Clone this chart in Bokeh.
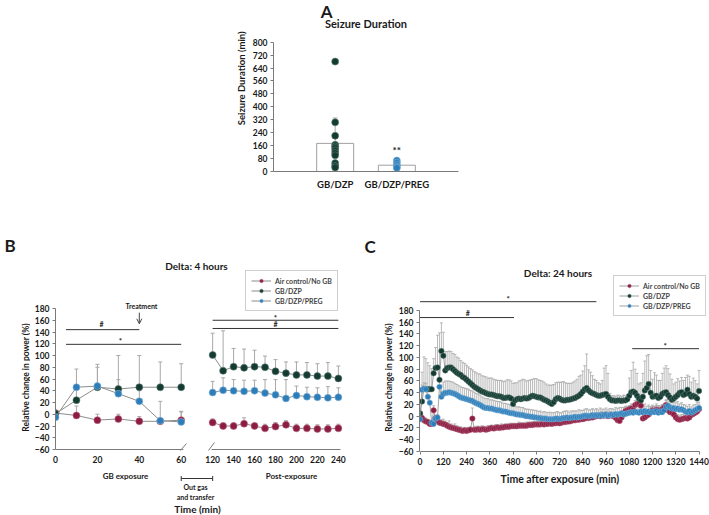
import math
from bokeh.plotting import figure
from bokeh.models import (Range1d, FixedTicker, Label, Legend, LegendItem, Whisker,
                          ColumnDataSource, FactorRange, TeeHead, Arrow, OpenHead)
from bokeh.layouts import column, row
from bokeh.embed import file_html
from bokeh.resources import INLINE

FONT = "Lato"
RED = "#8C1C40"
DARK = "#133B31"
BLUE = "#2C7DB8"
RED_RIM = "#B86A86"
DARK_RIM = "#5E7D74"
BLUE_RIM = "#86B6DC"
LINE = "#8C8C8C"
ERR = "#A8A8A8"
AXIS = "#7A7A7A"
TXT = "#1A1A1A"

# ---------------- Panel A data ----------------
a_groups = ["GB/DZP", "GB/DZP/PREG"]
a_means = [174, 39]
a_upper = [331, 58]
a_pts_dzp = [680, 304, 221, 165, 155, 145, 130, 115, 100, 52, 35, 25]
a_pts_preg = [68, 55, 42, 30, 22]
a_yticks = [0, 80, 160, 240, 320, 400, 480, 560, 640, 720, 800]

# ---------------- Panel B data ----------------
series_names = ["Air control/No GB", "GB/DZP", "GB/DZP/PREG"]
b_t_exp = [0, 10, 20, 30, 40, 50, 60]
b_air_exp = [2, -2, -10, -8, -12, -12, -10]
b_air_exp_up = [2, 14, 0, 0, -4, -8, 5]
b_dzp_exp = [1, 24, 46, 43, 46, 46, 46]
b_dzp_exp_up = [1, 50, 80, 100, 100, 89, 86]
b_preg_exp = [-5, 46, 48, 35, 22, -11, -13]
b_preg_exp_up = [-5, 77, 85, 59, 40, 22, 4]

b_t_post = [120, 130, 140, 150, 160, 170, 180, 190, 200, 210, 220, 230, 240]
b_air_post = [-14, -20, -20, -16, -20, -24, -21, -18, -24, -24, -25, -25, -24]
b_air_post_up = [-8, -15, -15, -6, -15, -17, -14, -11, -17, -17, -18, -18, -17]
b_dzp_post = [101, 74, 81, 79, 81, 80, 73, 70, 67, 67, 65, 65, 61]
b_dzp_post_up = [138, 142, 112, 111, 109, 99, 93, 89, 89, 88, 86, 88, 82]
b_preg_post = [37, 41, 40, 39, 40, 36, 33, 27, 32, 30, 29, 28, 29]
b_preg_post_up = [56, 62, 59, 58, 58, 59, 59, 59, 48, 46, 45, 47, 45]

b_left_tick_labels = [0, 20, 40, 60]
b_right_tick_labels = [120, 140, 160, 180, 200, 220, 240]
power_ticks = [-60, -40, -20, 0, 20, 40, 60, 80, 100, 120, 140, 160, 180]

# ---------------- Panel C data (every 10 min) ----------------
c_times = list(range(0, 1441, 10))
c_dzp = [
    5, 25, 46, 46, 46, 46, 46, 73, 82, 83,
    62, 111, 103, 78, 82, 83, 83, 80, 77, 74,
    72, 70, 67, 65, 62, 59, 56, 53, 50, 48,
    46, 44, 42, 41, 39, 38, 37, 37, 36, 35,
    34, 34, 33, 31, 31, 32, 32, 30, 21, 27,
    29, 30, 29, 30, 31, 30, 31, 33, 35, 34,
    33, 32, 32, 30, 28, 27, 25, 23, 21, 24,
    29, 31, 30, 28, 27, 27, 28, 28, 29, 30,
    31, 33, 35, 38, 42, 46, 48, 44, 41, 39,
    38, 36, 35, 35, 36, 37, 38, 33, 29, 27,
    27, 26, 27, 27, 26, 27, 27, 29, 35, 41,
    42, 40, 35, 30, 27, 33, 44, 48, 55, 40,
    33, 34, 35, 31, 33, 38, 40, 41, 36, 32,
    28, 30, 33, 36, 40, 41, 36, 38, 45, 38,
    33, 35, 33, 30, 43]
c_dzp_err = [
    3, 50, 55, 52, 45, 40, 35, 25, 35, 55,
    80, 48, 40, 32, 28, 28, 27, 27, 28, 27,
    27, 25, 25, 25, 25, 25, 25, 26, 26, 26,
    26, 28, 27, 27, 28, 27, 28, 28, 27, 27,
    27, 27, 28, 28, 29, 30, 30, 30, 35, 30,
    28, 30, 32, 33, 31, 30, 30, 29, 28, 30,
    31, 30, 29, 30, 30, 28, 28, 30, 32, 30,
    28, 27, 28, 30, 32, 30, 28, 28, 27, 28,
    29, 30, 33, 32, 35, 40, 58, 35, 34, 30,
    25, 25, 22, 20, 25, 45, 48, 40, 10, 8,
    8, 8, 9, 8, 8, 9, 8, 8, 30, 37,
    50, 40, 38, 25, 30, 40, 50, 55, 50, 38,
    30, 40, 35, 30, 28, 35, 42, 45, 45, 40,
    35, 25, 25, 28, 20, 25, 25, 28, 25, 30,
    25, 30, 28, 25, 35]
c_preg = [
    -5, 45, 47, 46, 33, 23, -11, -13, -4, -2,
    50, 33, 38, 40, 40, 41, 40, 39, 38, 36,
    34, 32, 31, 30, 29, 28, 27, 26, 24, 22,
    21, 19, 17, 15, 14, 14, 13, 13, 12, 11,
    10, 10, 9, 8, 8, 7, 6, 5, 5, 4,
    3, 3, 2, 2, 1, 0, 0, -1, -1, -2,
    -2, -3, -3, -4, -4, -4, -5, -5, -5, -5,
    -4, -4, -5, -4, -3, -3, -2, -3, -2, -2,
    -1, -2, -1, -1, 0, 1, 1, 0, 1, 2,
    1, 2, 1, 2, 1, 2, 3, 1, 2, 3,
    2, 4, 3, 4, 5, 3, 4, 5, 6, 7,
    6, 8, 7, 6, 8, 7, 9, 7, 8, 6,
    8, 7, 9, 6, 8, 7, 10, 16, 18, 15,
    13, 14, 12, 13, 11, 12, 10, 8, 7, 9,
    6, 8, 10, 12, 14]
c_preg_err = [
    3, 8, 10, 10, 12, 10, 5, 5, 5, 5,
    10, 20, 20, 20, 20, 19, 19, 19, 18, 18,
    18, 18, 18, 18, 18, 18, 17, 17, 17, 17,
    17, 17, 16, 16, 16, 16, 15, 15, 15, 15,
    15, 15, 15, 14, 14, 14, 14, 14, 14, 13,
    13, 13, 13, 13, 12, 12, 12, 12, 12, 12,
    12, 11, 12, 11, 12, 11, 11, 12, 11, 11,
    11, 12, 11, 10, 11, 12, 11, 10, 11, 11,
    10, 11, 12, 11, 10, 11, 12, 11, 10, 11,
    10, 11, 10, 12, 11, 10, 11, 10, 11, 10,
    10, 11, 10, 11, 10, 12, 11, 10, 11, 12,
    11, 10, 12, 11, 10, 11, 12, 10, 11, 10,
    11, 10, 12, 11, 10, 11, 10, 12, 11, 10,
    11, 10, 11, 12, 10, 11, 10, 11, 10, 11,
    10, 11, 10, 11, 10]
c_air = [
    1, -3, -7, -9, -10, -13, -13, 10, -3, -8,
    -11, -12, -13, -14, -16, -18, -19, -20, -21, -22,
    -23, -24, -25, -24, -25, -24, -23, -4, -23, -23,
    -22, -23, -22, -22, -23, -22, -21, -20, -21, -20,
    -19, -20, -19, -19, -18, -18, -18, -17, -17, -17,
    -17, -16, -16, -16, -16, -16, -15, -15, -15, -14,
    -14, -14, -14, -13, -14, -13, -13, -12, -13, -12,
    -12, -11, -12, -11, -10, -10, -9, -9, -8, -7,
    -7, -6, -6, -5, -5, -4, -3, -3, -2, -2,
    -1, 0, 1, 0, 2, 1, 2, 0, 2, 1,
    0, -3, -7, -8, -2, 3, 9, 10, 12, 13,
    11, 19, 21, 22, 18, -4, -2, 1, 3, 8,
    10, 9, 11, 10, 8, 12, 15, 19, 10, 7,
    6, 3, -2, -5, -6, -5, -4, -3, -4, -2,
    2, 4, 6, 8, 12]
c_air_err = [
    2, 5, 5, 6, 5, 5, 5, 8, 5, 5,
    5, 6, 8, 6, 5, 10, 6, 5, 8, 6,
    5, 6, 5, 5, 6, 5, 5, 18, 5, 6,
    5, 5, 6, 5, 5, 6, 5, 5, 5, 6,
    5, 5, 6, 5, 5, 5, 6, 5, 5, 5,
    5, 6, 5, 5, 5, 6, 5, 5, 6, 5,
    5, 5, 6, 5, 5, 5, 6, 5, 5, 6,
    5, 6, 5, 5, 6, 5, 5, 6, 5, 5,
    6, 5, 5, 6, 5, 6, 5, 5, 6, 5,
    6, 5, 6, 5, 6, 5, 6, 5, 6, 5,
    6, 7, 8, 8, 7, 6, 8, 7, 6, 8,
    7, 8, 7, 8, 9, 8, 7, 8, 7, 8,
    7, 8, 7, 8, 7, 8, 7, 8, 7, 8,
    7, 8, 7, 8, 7, 8, 7, 8, 7, 8,
    7, 8, 7, 8, 7]
c_xticks = [0, 120, 240, 360, 480, 600, 720, 840, 960, 1080, 1200, 1320, 1440]


def label(p, x, y, text, size="9px", align="center", baseline="middle", angle=0.0,
          style="bold", color=TXT):
    p.add_layout(Label(x=x, y=y, text=text, text_font=FONT, text_font_size=size,
                       text_font_style=style, text_align=align, text_baseline=baseline,
                       angle=angle, text_color=color))


def style_axis(ax, size="8.5px", ticks=True, standoff=3):
    ax.axis_line_color = AXIS
    ax.axis_line_width = 1
    ax.major_tick_line_color = AXIS if ticks else None
    ax.major_tick_out = 3 if ticks else 0
    ax.major_tick_in = 0
    ax.minor_tick_line_color = None
    ax.major_label_text_font = FONT
    ax.major_label_text_font_style = "bold"
    ax.major_label_text_font_size = size
    ax.major_label_text_color = TXT
    ax.major_label_standoff = standoff


def base_fig(width, height, x_range, y_range, left, bottom, right=0):
    p = figure(width=width, height=height, x_range=x_range, y_range=y_range,
               output_backend="svg", toolbar_location=None, title=None,
               min_border_left=left, min_border_right=right, min_border_top=0,
               min_border_bottom=bottom)
    p.grid.visible = False
    p.outline_line_color = None
    p.background_fill_color = "white"
    p.border_fill_color = "white"
    return p


def text_fig(width, height, x_range, y_range, left=0, right=0):
    p = figure(width=width, height=height, x_range=x_range, y_range=y_range,
               x_axis_location=None, y_axis_location=None,
               output_backend="svg", toolbar_location=None, title=None,
               min_border_left=left, min_border_right=right, min_border_top=0,
               min_border_bottom=0)
    p.grid.visible = False
    p.outline_line_color = None
    p.background_fill_color = "white"
    p.border_fill_color = "white"
    return p


def sig_line(p, x0, x1, y, **kw):
    p.segment(x0=[x0], y0=[y], x1=[x1], y1=[y], line_color="#333333", line_width=1, **kw)


# =============== Panel A ===============
A_ylab = text_fig(248, 233, Range1d(0, 248), Range1d(233, 0))
label(A_ylab, 241, 106, "Seizure Duration (min)", size="9.5px", angle=math.pi / 2)

pA = figure(width=461, height=233,
            x_range=FactorRange(factors=a_groups, range_padding=0.5,
                                range_padding_units="absolute", factor_padding=0),
            y_range=Range1d(0, 1058), output_backend="svg", toolbar_location=None,
            title=None, min_border_left=25, min_border_right=251, min_border_top=0,
            min_border_bottom=62)
pA.grid.visible = False
pA.outline_line_color = None
style_axis(pA.yaxis[0], size="8.5px", ticks=True, standoff=3)
pA.yaxis.ticker = FixedTicker(ticks=a_yticks)
pA.yaxis.bounds = (0, 800)
style_axis(pA.xaxis[0], size="9.5px", ticks=False, standoff=7)

srcA = ColumnDataSource(dict(g=a_groups, m=a_means, u=a_upper))
pA.add_layout(Whisker(base="g", lower="m", upper="u", source=srcA, line_color=ERR,
                      upper_head=TeeHead(size=5, line_color=ERR), lower_head=None))
pA.vbar(x="g", top="m", width=0.6, source=srcA, fill_color="white",
        line_color="#A0A0A0", line_width=1)
pA.scatter(x=[a_groups[0]] * len(a_pts_dzp), y=a_pts_dzp, size=7, fill_color=DARK,
           line_color=DARK_RIM, line_width=0.6)
pA.scatter(x=[a_groups[1]] * len(a_pts_preg), y=a_pts_preg, size=7, fill_color=BLUE,
           line_color=BLUE_RIM, line_width=0.6)
label(pA, 0.36, 1058, "A", size="17px", baseline="top")
label(pA, 1.0, 916, "Seizure Duration", size="11px")
label(pA, 1.5, 132, "**", size="10px")

top_row = row(A_ylab, pA)

# =============== Panel B ===============
# main x range is post-exposure time; the exposure period uses its own (wider) scale
pB = base_fig(333, 235, Range1d(-30, 264), Range1d(-66.8, 307.66), 25, 15)
pB.extra_x_ranges = {"exp": Range1d(0, 147)}
main_r = pB.x_range
exp_r = pB.extra_x_ranges["exp"]
scale = (main_r.end - main_r.start) / (exp_r.end - exp_r.start)


def exp_to_main(t):
    return main_r.start + (t - exp_r.start) * scale


def bx(px):  # reference pixel x -> main x units (for text placement)
    return main_r.start + (px - 55) * (main_r.end - main_r.start) / 308.0


left_pos = [int(round(exp_to_main(t))) for t in b_left_tick_labels]
style_axis(pB.xaxis[0], size="8.5px", ticks=False, standoff=2)
pB.xaxis.axis_line_color = None
pB.xaxis.ticker = FixedTicker(ticks=left_pos + b_right_tick_labels)
pB.xaxis.major_label_overrides = {pos: str(t) for pos, t in zip(left_pos, b_left_tick_labels)}
style_axis(pB.yaxis[0], size="8.5px", ticks=True, standoff=3)
pB.yaxis.ticker = FixedTicker(ticks=power_ticks)
pB.yaxis.bounds = (-60, 180)

# broken x axis line with break marks
ax_y = power_ticks[0]
pB.segment(x0=[exp_to_main(b_t_exp[0]), 119], y0=[ax_y, ax_y],
           x1=[exp_to_main(b_t_exp[-1]) + 2, 242], y1=[ax_y, ax_y],
           line_color=AXIS, line_width=1)
pB.segment(x0=[exp_to_main(b_t_exp[-1]) - 0.7, 116], y0=[ax_y - 1.7, ax_y - 1.7],
           x1=[exp_to_main(b_t_exp[-1]) + 5, 121.8], y1=[ax_y + 10.2, ax_y + 11.9],
           line_color=AXIS, line_width=1)

colors = [RED, DARK, BLUE]
rims = [RED_RIM, DARK_RIM, BLUE_RIM]
b_exp_vals = [(b_air_exp, b_air_exp_up), (b_dzp_exp, b_dzp_exp_up), (b_preg_exp, b_preg_exp_up)]
b_post_vals = [(b_air_post, b_air_post_up), (b_dzp_post, b_dzp_post_up),
               (b_preg_post, b_preg_post_up)]
legend_b = []
for i in range(3):
    ys, ups = b_exp_vals[i]
    s = ColumnDataSource(dict(t=b_t_exp, y=ys, u=ups))
    pB.add_layout(Whisker(base="t", lower="y", upper="u", source=s, line_color=ERR,
                          upper_head=TeeHead(size=4, line_color=ERR), lower_head=None,
                          x_range_name="exp"))
for i in range(3):
    ys, ups = b_post_vals[i]
    s = ColumnDataSource(dict(t=b_t_post, y=ys, u=ups))
    pB.add_layout(Whisker(base="t", lower="y", upper="u", source=s, line_color=ERR,
                          upper_head=TeeHead(size=4, line_color=ERR), lower_head=None))
for i in range(3):
    ys, ups = b_exp_vals[i]
    pB.line(b_t_exp, ys, line_color=LINE, line_width=1, x_range_name="exp")
    pB.scatter(b_t_exp, ys, size=7, fill_color=colors[i], line_color=rims[i],
               line_width=0.6, x_range_name="exp")
    ys, ups = b_post_vals[i]
    lr = pB.line(b_t_post, ys, line_color=LINE, line_width=1)
    sr = pB.scatter(b_t_post, ys, size=7, fill_color=colors[i], line_color=rims[i],
                    line_width=0.6)
    legend_b.append(LegendItem(label=series_names[i], renderers=[lr, sr]))


def make_legend(items, loc):
    return Legend(items=items, location=loc, label_text_font=FONT,
                  label_text_font_style="bold", label_text_font_size="7px",
                  label_height=9, glyph_height=9, glyph_width=20, spacing=1,
                  padding=5, margin=0, label_standoff=4, border_line_color="#A0A0A0",
                  border_line_width=1, background_fill_color="white",
                  background_fill_alpha=1.0)


pB.add_layout(make_legend(legend_b, (190, 142)))

sig_line(pB, 5, 40, 144, x_range_name="exp")
sig_line(pB, 5, 60, 119, x_range_name="exp")
sig_line(pB, 120, 240, 160)
sig_line(pB, 120, 240, 146)
label(pB, exp_to_main(22), 154, "#", size="7px")
label(pB, exp_to_main(31), 124, "*", size="8px")
label(pB, 180, 153, "#", size="7px")
label(pB, 180, 164, "*", size="8px")
label(pB, bx(141), 183.5, "Treatment", size="7px")
pB.add_layout(Arrow(end=OpenHead(size=5, line_color="#444444", line_width=1),
                    x_start=40, y_start=173, x_end=40, y_end=154, line_color="#444444",
                    line_width=1, x_range_name="exp"))
label(pB, bx(196), 251.5, "Delta: 4 hours", size="10px")

# texts under the B axis (shares the B x range; y in page pixels)
B_bottom = text_fig(333, 47, pB.x_range, Range1d(515, 468), left=25)
label(B_bottom, bx(125), 475, "GB exposure", size="8px")
label(B_bottom, bx(291), 475, "Post-exposure", size="8px")
B_bottom.add_layout(Arrow(start=TeeHead(size=5, line_color="#333333"),
                          end=TeeHead(size=5, line_color="#333333"),
                          x_start=exp_to_main(b_t_exp[-1]), y_start=478,
                          x_end=b_t_post[0], y_end=478,
                          line_color="#333333", line_width=1))
label(B_bottom, bx(195), 486, "Out gas", size="7px")
label(B_bottom, bx(195), 496, "and transfer", size="7px")
label(B_bottom, bx(197), 508, "Time (min)", size="10px")

B_ylab = text_fig(30, 282, Range1d(0, 30), Range1d(515, 233))
label(B_ylab, 4, 245, "B", size="17px", align="left")
label(B_ylab, 25, 377, "Relative change in power (%)", size="8.5px", angle=math.pi / 2)

B_block = row(B_ylab, column(pB, B_bottom))

# =============== Panel C ===============
pC = base_fig(314, 237, Range1d(-3, 1494), Range1d(-60, 311.06), 24, 19)
style_axis(pC.xaxis[0], size="8.5px", ticks=True, standoff=3)
pC.xaxis.ticker = FixedTicker(ticks=c_xticks)
pC.xaxis.bounds = (0, 1440)
style_axis(pC.yaxis[0], size="8.5px", ticks=True, standoff=3)
pC.yaxis.ticker = FixedTicker(ticks=power_ticks)
pC.yaxis.bounds = (-60, 180)

c_vals = [(c_air, c_air_err), (c_dzp, c_dzp_err), (c_preg, c_preg_err)]
for i in range(3):
    ys, es = c_vals[i]
    s = ColumnDataSource(dict(t=c_times, y=ys, u=[a + b for a, b in zip(ys, es)]))
    pC.add_layout(Whisker(base="t", lower="y", upper="u", source=s, line_color=ERR,
                          line_width=0.8, upper_head=TeeHead(size=3, line_color=ERR,
                                                             line_width=0.8),
                          lower_head=None))
legend_c = []
for i in range(3):
    ys, es = c_vals[i]
    lr = pC.line(c_times, ys, line_color=LINE, line_width=0.8)
    sr = pC.scatter(c_times, ys, size=5.5, fill_color=colors[i], line_color=rims[i],
                    line_width=0.5)
    legend_c.append(LegendItem(label=series_names[i], renderers=[lr, sr]))
pC.add_layout(make_legend(legend_c, (194, 135)))

sig_line(pC, 0, 910, 195)
sig_line(pC, 0, 485, 168)
sig_line(pC, 1095, 1440, 115)
label(pC, 455, 200, "*", size="8px")
label(pC, 246, 175, "#", size="7px")
label(pC, 1265, 120, "*", size="8px")
label(pC, 712, 243, "Delta: 24 hours", size="10px")

C_bottom = text_fig(314, 45, pC.x_range, Range1d(515, 470), left=24)
label(C_bottom, 722, 478, "Time after exposure (min)", size="10.5px")

C_ylab = text_fig(32, 282, Range1d(363, 395), Range1d(515, 233))
label(C_ylab, 364, 246, "C", size="17px", align="left")
label(C_ylab, 388, 377, "Relative change in power (%)", size="8.5px", angle=math.pi / 2)

C_block = row(C_ylab, column(pC, C_bottom))

layout = column(top_row, row(B_block, C_block))
open("out.html", "w").write(file_html(layout, INLINE))
